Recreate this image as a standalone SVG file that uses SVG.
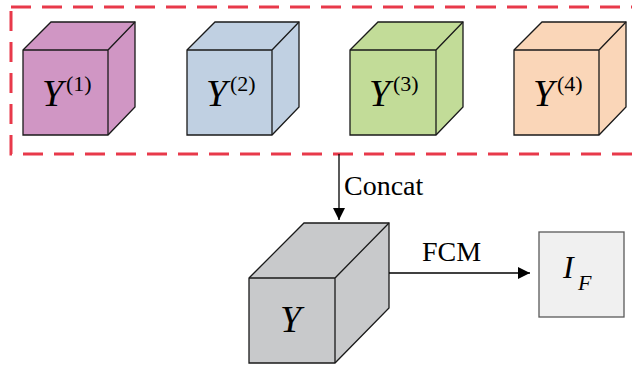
<svg xmlns="http://www.w3.org/2000/svg" width="632" height="366" viewBox="0 0 632 366">
  <style>
    .edge { stroke: #1a1a1a; stroke-width: 1.3; stroke-linejoin: miter; }
    .math { font-family: "Liberation Serif", "Times New Roman", serif; font-style: italic; fill: #000; }
    .sup { font-family: "Liberation Serif", "Times New Roman", serif; font-style: normal; fill: #000; }
    .lbl { font-family: "Liberation Serif", "Times New Roman", serif; font-size: 28px; fill: #000; }
    .wire { stroke: #000; stroke-width: 1.3; fill: none; }
  </style>
  <defs>
    <marker id="arrow" viewBox="0 0 12 12" refX="12" refY="6" markerWidth="12" markerHeight="12" markerUnits="userSpaceOnUse" orient="auto">
      <path d="M0,0 L12,6 L0,12 Z" fill="#000"/>
    </marker>
  </defs>

  <rect x="0" y="0" width="632" height="366" fill="#fff"/>

  <!-- dashed group frame (open on the right) -->
  <rect id="group-frame" x="11" y="7" width="640" height="147" fill="none" stroke="#e8394a" stroke-width="3" stroke-dasharray="20 11"/>

  <!-- Y(1) -->
  <g id="cube1">
    <path class="edge" fill="#d096c4" d="M23,50 L51,22 L135,22 L135,107 L108,135 L23,135 Z"/>
    <path class="edge" fill="none" d="M23,50 L108,50 L135,22 M108,50 L108,135"/>
    <text class="math" x="42" y="106" font-size="38">Y</text>
    <text class="sup" x="66" y="91" font-size="22">(1)</text>
  </g>

  <!-- Y(2) -->
  <g id="cube2">
    <path class="edge" fill="#c0d0e2" d="M187,50 L215,22 L299,22 L299,107 L272,135 L187,135 Z"/>
    <path class="edge" fill="none" d="M187,50 L272,50 L299,22 M272,50 L272,135"/>
    <text class="math" x="206" y="106" font-size="38">Y</text>
    <text class="sup" x="230" y="91" font-size="22">(2)</text>
  </g>

  <!-- Y(3) -->
  <g id="cube3">
    <path class="edge" fill="#c2dc98" d="M350,50 L378,22 L463,22 L463,107 L436,135 L350,135 Z"/>
    <path class="edge" fill="none" d="M350,50 L436,50 L463,22 M436,50 L436,135"/>
    <text class="math" x="369" y="106" font-size="38">Y</text>
    <text class="sup" x="393" y="91" font-size="22">(3)</text>
  </g>

  <!-- Y(4) -->
  <g id="cube4">
    <path class="edge" fill="#fad6b8" d="M514,50 L542,22 L626,22 L626,107 L599,135 L514,135 Z"/>
    <path class="edge" fill="none" d="M514,50 L599,50 L626,22 M599,50 L599,135"/>
    <text class="math" x="533" y="106" font-size="38">Y</text>
    <text class="sup" x="557" y="91" font-size="22">(4)</text>
  </g>

  <!-- concatenated tensor Y -->
  <g id="cubeY">
    <path class="edge" fill="#c8c9cb" d="M249,278 L304,223 L389,223 L389,308 L335,363 L249,363 Z"/>
    <path class="edge" fill="none" d="M249,278 L335,278 L389,223 M335,278 L335,363"/>
    <text class="math" x="280" y="332" font-size="38">Y</text>
  </g>

  <!-- output I_F -->
  <g id="outputIF">
    <rect x="539" y="232" width="85" height="85" fill="#f0f0f0" stroke="#595959" stroke-width="1.3"/>
    <text class="math" x="563" y="278" font-size="32">I</text>
    <text class="math" x="578" y="290" font-size="22">F</text>
  </g>

  <!-- connectors -->
  <g id="connectors">
    <line class="wire" x1="339" y1="154" x2="339" y2="220" marker-end="url(#arrow)"/>
    <text class="lbl" x="344" y="195">Concat</text>
    <line class="wire" x1="389" y1="273" x2="530" y2="273" marker-end="url(#arrow)"/>
    <text class="lbl" x="422" y="261">FCM</text>
  </g>
</svg>
